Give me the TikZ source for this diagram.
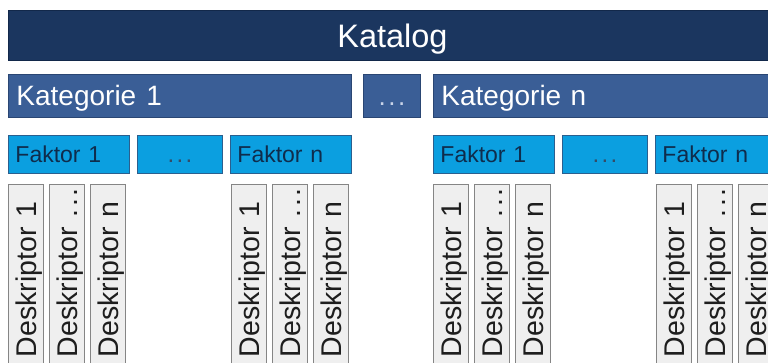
\documentclass[tikz,border=0pt]{standalone}
\usepackage{fontspec}
\setmainfont{Liberation Sans}
\definecolor{katalogfill}{HTML}{1B365F}
\definecolor{katalogline}{HTML}{12284A}
\definecolor{kategoriefill}{HTML}{3A5E96}
\definecolor{kategorieline}{HTML}{2A4673}
\definecolor{kategoriedots}{HTML}{C9D4E8}
\definecolor{faktorfill}{HTML}{0B9FE0}
\definecolor{faktorline}{HTML}{2B5F8E}
\definecolor{faktortext}{HTML}{0F2C4C}
\definecolor{deskfill}{HTML}{EFEFEF}
\definecolor{deskline}{HTML}{858585}
\definecolor{desktext}{HTML}{1E1E1E}
\newcommand{\dotsgap}{.\kern0.1em.\kern0.1em.}
\begin{document}
\begin{tikzpicture}[x=1pt,y=-1pt,
  box/.style={rectangle, anchor=north west, line width=0.9pt, inner ysep=0pt},
  katalogbox/.style={box, fill=katalogfill, draw=katalogline, text=white,
    minimum height=50, text width=768, align=center, inner xsep=0pt,
    font=\fontsize{32.5}{34}\selectfont, text height=23.3, text depth=0},
  kategoriebox/.style={box, fill=kategoriefill, draw=kategorieline, text=white,
    minimum height=43, inner xsep=8pt, text width=327, align=left,
    font=\fontsize{28}{30}\selectfont, text height=20, text depth=0},
  kategoriedotsbox/.style={box, fill=kategoriefill, draw=kategorieline, text=kategoriedots,
    minimum height=43, minimum width=57, inner xsep=0pt,
    font=\fontsize{26}{28}\selectfont, text height=19, text depth=0},
  faktorbox/.style={box, fill=faktorfill, draw=faktorline, text=faktortext,
    minimum height=38, inner xsep=7pt, text width=107, align=left,
    font=\fontsize{23}{25}\selectfont, text height=16.5, text depth=0},
  faktordotsbox/.style={box, fill=faktorfill, draw=faktorline, text=faktortext!85,
    minimum height=38, minimum width=85, inner xsep=0pt,
    font=\fontsize{24}{26}\selectfont, text height=16.5, text depth=0},
  deskbox/.style={rectangle, rotate=90, fill=deskfill, draw=deskline, line width=0.9pt,
    text=desktext, minimum height=35, inner ysep=0pt, inner xsep=9pt,
    text width=164, align=left,
    font=\fontsize{28.5}{30}\selectfont, text height=22, text depth=0}
]
\useasboundingbox (0,0) rectangle (768,363);
\clip (0,0) rectangle (768,363);
\fill[white] (0,0) rectangle (768,363);

% top level: the catalogue
\node[katalogbox] (katalog) at (8,10) {Katalog};

% categories
\node[kategoriebox] (kat1) at (8,74) {Kategorie\hspace{0.36em}1};
\node[kategoriedotsbox] (katdots) at (363,74) {\dotsgap};
\node[kategoriebox] (katn) at (433,74) {Kategorie\hspace{0.33em}n};

% factors and descriptors of each category (descriptor boxes run past the lower edge)
\foreach \c/\x in {1/8, 2/433}{
  \node[faktorbox] (f\c a) at (\x,135) {Faktor 1};
  \node[faktordotsbox] (f\c b) at ({\x+129},135) {\dotsgap};
  \node[faktorbox] (f\c c) at ({\x+222},135) {Faktor n};
  \foreach \g/\gx in {1/0, 2/223}{
    \node[deskbox] (d\c\g a) at ({\x+\gx+17.5},275) {Deskriptor 1};
    \node[deskbox] (d\c\g b) at ({\x+\gx+41+17.5},275) {\mbox{Deskriptor \dotsgap}};
    \node[deskbox] (d\c\g c) at ({\x+\gx+82+17.5},275) {Deskriptor n};
  }
}
\end{tikzpicture}
\end{document}
